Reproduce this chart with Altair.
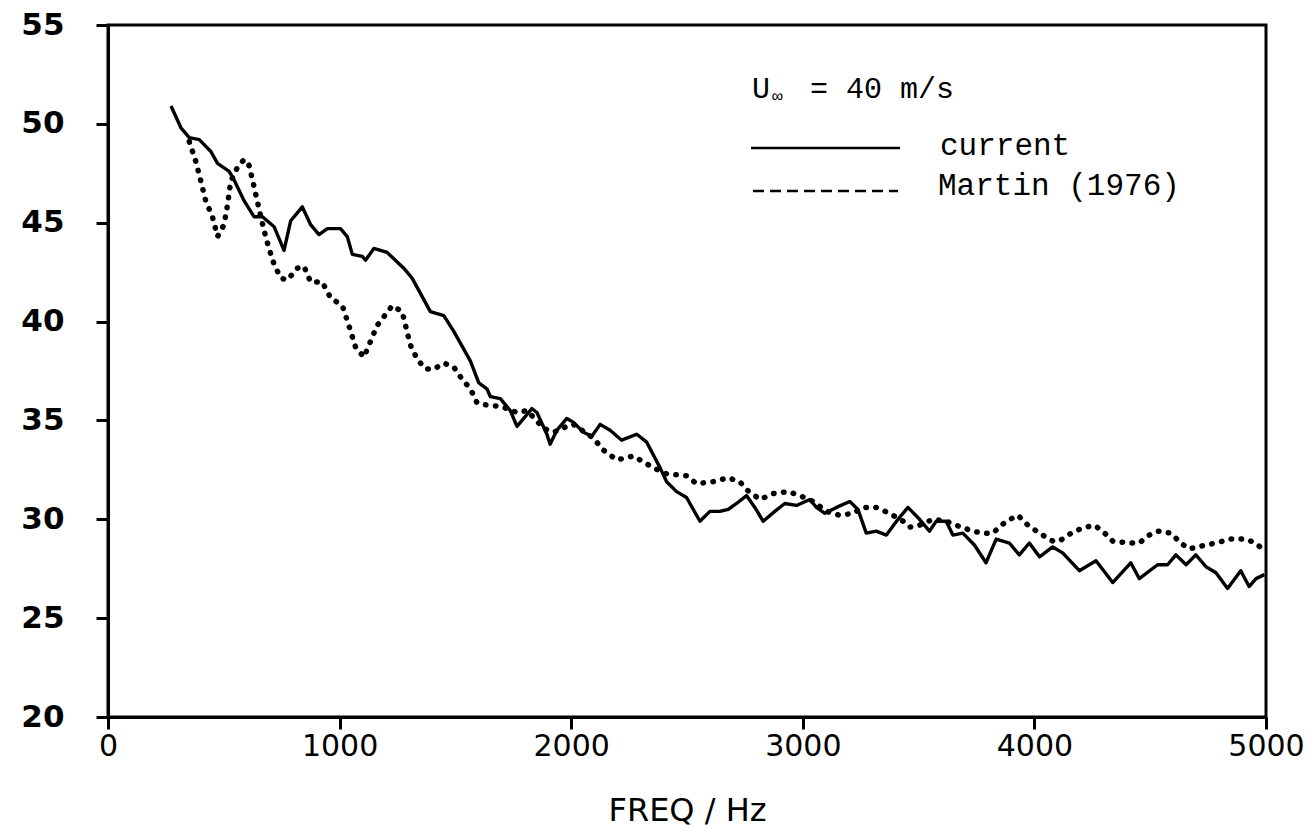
import altair as alt
import pandas as pd

# ---- data ----
current_pts = [
    (272, 50.9), (315, 49.8), (351, 49.3), (394, 49.2), (444, 48.6), (473, 48.0),
    (523, 47.6), (543, 47.2), (588, 46.1), (631, 45.3), (667, 45.3), (717, 44.8),
    (760, 43.6), (789, 45.1), (839, 45.8), (875, 44.9), (911, 44.4), (947, 44.7),
    (1004, 44.7), (1033, 44.3), (1055, 43.4), (1098, 43.3), (1112, 43.1), (1148, 43.7),
    (1205, 43.5), (1277, 42.7), (1313, 42.2), (1392, 40.5), (1450, 40.3), (1493, 39.5),
    (1565, 38.0), (1601, 36.9), (1636, 36.6), (1651, 36.2), (1694, 36.1), (1737, 35.5),
    (1766, 34.7), (1795, 35.1), (1830, 35.6), (1852, 35.4), (1895, 34.3), (1909, 33.8),
    (1938, 34.5), (1981, 35.1), (2010, 34.9), (2053, 34.4), (2089, 34.2), (2125, 34.8),
    (2168, 34.5), (2218, 34.0), (2283, 34.3), (2326, 33.9), (2384, 32.6), (2412, 31.9),
    (2455, 31.4), (2498, 31.1), (2556, 29.9), (2599, 30.4), (2642, 30.4), (2678, 30.5),
    (2714, 30.8), (2757, 31.2), (2793, 30.6), (2829, 29.9), (2879, 30.4), (2922, 30.8),
    (2973, 30.7), (3030, 31.0), (3059, 30.6), (3095, 30.3), (3145, 30.6), (3203, 30.9),
    (3238, 30.5), (3274, 29.3), (3317, 29.4), (3361, 29.2), (3411, 30.0), (3454, 30.6),
    (3504, 30.0), (3547, 29.4), (3576, 29.9), (3619, 29.9), (3648, 29.2), (3691, 29.3),
    (3741, 28.7), (3791, 27.8), (3835, 29.0), (3892, 28.8), (3935, 28.2), (3978, 28.8),
    (4022, 28.1), (4079, 28.6), (4122, 28.3), (4194, 27.4), (4266, 27.9), (4338, 26.8),
    (4416, 27.8), (4453, 27.0), (4532, 27.7), (4575, 27.7), (4611, 28.2), (4655, 27.7),
    (4697, 28.2), (4741, 27.6), (4784, 27.3), (4834, 26.5), (4891, 27.4), (4927, 26.6),
    (4957, 27.0), (4993, 27.2),
]

martin_pts = [
    (351, 49.1), (379, 48.1), (401, 47.1), (422, 46.1), (451, 45.3), (473, 44.3),
    (501, 44.9), (516, 45.9), (530, 47.1), (559, 47.8), (588, 48.2), (609, 47.9),
    (631, 46.8), (652, 45.7), (674, 44.6), (695, 43.7), (717, 42.9), (746, 42.2),
    (774, 42.1), (818, 42.7), (846, 42.8), (875, 42.0), (925, 42.0), (961, 41.2),
    (1012, 40.8), (1040, 39.8), (1069, 38.7), (1105, 38.2), (1162, 39.8), (1227, 40.8),
    (1270, 40.5), (1291, 39.5), (1306, 38.8), (1335, 38.1), (1371, 37.6), (1407, 37.6),
    (1450, 37.9), (1493, 37.7), (1528, 37.1), (1565, 36.6), (1593, 35.9), (1622, 35.8),
    (1700, 35.7), (1766, 35.4), (1810, 35.5), (1881, 34.6), (1924, 34.4), (1981, 34.7),
    (2010, 34.8), (2096, 34.1), (2139, 33.5), (2197, 33.0), (2269, 33.2), (2312, 32.9),
    (2355, 32.6), (2412, 32.3), (2498, 32.2), (2541, 31.8), (2612, 31.9), (2678, 32.1),
    (2728, 31.9), (2757, 31.5), (2815, 31.0), (2872, 31.3), (2937, 31.4), (2987, 31.2),
    (3045, 30.9), (3102, 30.4), (3160, 30.2), (3217, 30.3), (3260, 30.6), (3317, 30.6),
    (3375, 30.3), (3433, 29.9), (3461, 29.6), (3504, 29.7), (3562, 30.0), (3619, 29.9),
    (3662, 29.7), (3733, 29.4), (3777, 29.3), (3820, 29.3), (3878, 29.9), (3929, 30.2),
    (3972, 29.7), (4022, 29.3), (4079, 28.9), (4108, 28.9), (4172, 29.4), (4223, 29.6),
    (4259, 29.7), (4295, 29.4), (4338, 28.9), (4409, 28.8), (4453, 28.8), (4496, 29.2),
    (4532, 29.4), (4589, 29.3), (4632, 28.8), (4668, 28.5), (4741, 28.7), (4784, 28.8),
    (4848, 29.0), (4912, 29.0), (4955, 28.8), (4984, 28.5),
]

x_ticks = [0, 1000, 2000, 3000, 4000, 5000]
y_ticks = [20, 25, 30, 35, 40, 45, 50, 55]

cur_df = pd.DataFrame(current_pts, columns=["freq", "level"])
mar_df = pd.DataFrame(martin_pts, columns=["freq", "level"])

W, H = 1158, 692

xenc = alt.X(
    "freq:Q",
    scale=alt.Scale(domain=[0, 5000], nice=False),
    axis=alt.Axis(
        values=x_ticks, format="d", title="FREQ / Hz", labelFontSize=30,
        labelFont="DejaVu Sans", labelPadding=2, titleFontSize=32,
        titleFont="DejaVu Sans", titleFontWeight="normal", titlePadding=34,
        labelFlush=False, labelOverlap=False,
        ticks=True, tickSize=12, tickWidth=3, tickColor="black",
        domainWidth=3, domainColor="black",
    ),
)
yenc = alt.Y(
    "level:Q",
    scale=alt.Scale(domain=[20, 55], nice=False),
    axis=alt.Axis(
        values=y_ticks, format="d", title=None, labelFontSize=31,
        labelFont="DejaVu Sans", labelFontWeight="bold", labelPadding=32,
        labelOverlap=False,
        ticks=True, tickSize=12, tickWidth=3, tickColor="black",
        domainWidth=3, domainColor="black",
    ),
)

current_line = alt.Chart(cur_df).mark_line(
    color="black", strokeWidth=3.4, strokeJoin="round"
).encode(x=xenc, y=yenc)

martin_line = alt.Chart(mar_df).mark_line(
    color="black", strokeWidth=5.5, strokeDash=[0.5, 9.5], strokeCap="round"
).encode(x="freq:Q", y="level:Q")

one = alt.Data(values=[{}])
mono = "Liberation Mono"

def txt(s, x, y, size=31):
    return alt.Chart(one).mark_text(
        font=mono, fontSize=size, align="left", baseline="alphabetic", color="black"
    ).encode(x=alt.value(x), y=alt.value(y), text=alt.value(s))

legend = [
    txt("U", 644, 73, size=30),
    txt("\u221e", 664, 77, size=18),
    txt("= 40 m/s", 702, 73, size=30),
    alt.Chart(one).mark_rule(color="black", strokeWidth=2.5).encode(
        x=alt.value(643), x2=alt.value(792), y=alt.value(123)),
    txt("current", 832, 130),
    alt.Chart(one).mark_rule(color="black", strokeWidth=2.5, strokeDash=[11, 6]).encode(
        x=alt.value(645), x2=alt.value(790), y=alt.value(166)),
    txt("Martin (1976)", 830, 170),
]

chart = alt.layer(current_line, martin_line, *legend).properties(
    width=W, height=H,
    padding={"left": 108, "top": 25, "right": 47, "bottom": 122},
    autosize=alt.AutoSizeParams(type="none"),
    background="white",
).configure_view(stroke="black", strokeWidth=3).configure_axis(
    grid=False, labelColor="black", titleColor="black",
)

chart.save("out.html", embed_options={"renderer": "svg", "actions": False})
